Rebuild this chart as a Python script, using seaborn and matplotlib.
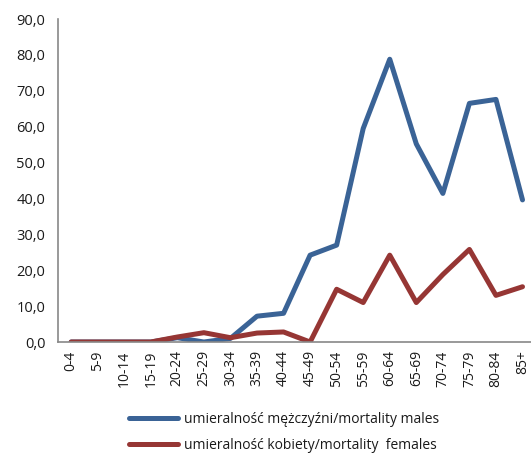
import pandas as pd
import numpy as np
import matplotlib.pyplot as plt
import seaborn as sns
from matplotlib.lines import Line2D

age_groups = ['0-4', '5-9', '10-14', '15-19', '20-24', '25-29', '30-34', '35-39', '40-44',
              '45-49', '50-54', '55-59', '60-64', '65-69', '70-74', '75-79', '80-84', '85+']
males = [0, 0, 0, 0, 1.2, 0, 1.0, 7.2, 8.0, 24.2, 27.0, 59.5, 78.8, 55.2, 41.4, 66.5, 67.6, 39.6]
females = [0, 0, 0, 0, 1.4, 2.6, 1.2, 2.5, 2.8, 0, 14.7, 11.0, 24.2, 11.0, 18.8, 25.8, 13.0, 15.4]

label_m = "umieralność mężczyźni/mortality males"
label_f = "umieralność kobiety/mortality  females"

df = pd.DataFrame({
    "age": age_groups * 2,
    "value": males + females,
    "series": [label_m] * len(age_groups) + [label_f] * len(age_groups),
})
df["pos"] = np.tile(np.arange(len(age_groups)), 2)

sns.set_style("white")
plt.rcParams['font.family'] = ['Open Sans', 'DejaVu Sans']
plt.rcParams['text.color'] = '#1a1a1a'
plt.rcParams['xtick.color'] = '#1a1a1a'
plt.rcParams['ytick.color'] = '#1a1a1a'

fig = plt.figure(figsize=(5.31, 4.53), dpi=100)
ax = fig.add_axes([0.109, 0.245, 0.9, 0.713])

sns.lineplot(data=df, x="pos", y="value", hue="series",
             palette={label_m: "#3A6396", label_f: "#963634"},
             linewidth=3.6, ax=ax, legend=False, solid_joinstyle="round")

ax.set_xlim(-0.5, 17.5)
ax.set_ylim(0, 90)
ax.set_yticks(np.arange(0, 91, 10))
ax.set_yticklabels([f"{v:.1f}".replace(".", ",") for v in np.arange(0, 91, 10)], fontsize=10.5)
ax.set_xticks(np.arange(len(age_groups)))
ax.set_xticklabels(age_groups, rotation=90, fontsize=10)
ax.set_xticks(np.arange(len(age_groups)) + 0.5, minor=True)
ax.tick_params(axis='x', which='major', length=0, pad=6)
ax.tick_params(axis='x', which='minor', length=5, color='#888888', direction='out')
ax.tick_params(axis='y', length=5, color='#888888', direction='out', pad=4)
ax.set_xlabel("")
ax.set_ylabel("")
for s in ['top', 'right']:
    ax.spines[s].set_visible(False)
for s in ['left', 'bottom']:
    ax.spines[s].set_color('#888888')
    ax.spines[s].set_linewidth(1.2)

handles = [Line2D([], [], color="#3A6396", lw=3.6),
           Line2D([], [], color="#963634", lw=3.6)]
fig.legend(handles, [label_m, label_f], loc='center', bbox_to_anchor=(0.535, 0.046),
           frameon=False, fontsize=10, handlelength=3.5, labelspacing=0.8,
           handletextpad=0.4)

fig.savefig("out.png", dpi=100)
